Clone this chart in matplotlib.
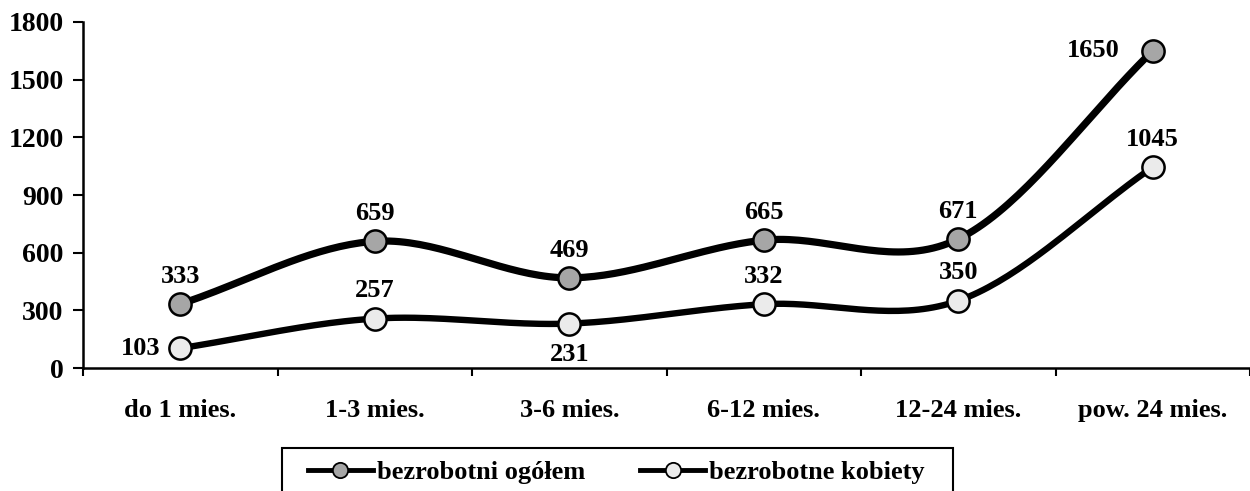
import numpy as np
import matplotlib
matplotlib.use('Agg')
from matplotlib import pyplot as plt
from matplotlib.lines import Line2D
from matplotlib.patches import Rectangle

# dane
kategorie = ['do 1 mies.', '1-3 mies.', '3-6 mies.', '6-12 mies.', '12-24 mies.', 'pow. 24 mies.']
ogolem = [333, 659, 469, 665, 671, 1650]
kobiety = [103, 257, 231, 332, 350, 1045]
# położenie etykiet danych: 'g' nad, 'd' pod, 'l' z lewej, 'L' dalej z lewej
poz_ogolem = ['g', 'g', 'g', 'g', 'g', 'L']
poz_kobiety = ['l', 'g', 'd', 'g', 'g', 'g']

plt.rcParams['font.family'] = ['Liberation Serif', 'DejaVu Serif']
plt.rcParams['font.weight'] = 'bold'


def wygladz(y, n=40):
    # krzywa Catmulla-Roma przez punkty (jak wygładzona linia w Excelu)
    y = np.asarray(y, dtype=float)
    x = np.arange(len(y), dtype=float)
    xs, ys = [], []
    for i in range(len(y) - 1):
        m0 = (y[min(i + 1, len(y) - 1)] - y[max(i - 1, 0)]) / (2 if 0 < i else 1)
        m1 = (y[min(i + 2, len(y) - 1)] - y[i]) / (2 if i + 2 < len(y) else 1)
        t = np.linspace(0, 1, n)
        h00 = 2 * t**3 - 3 * t**2 + 1
        h10 = t**3 - 2 * t**2 + t
        h01 = -2 * t**3 + 3 * t**2
        h11 = t**3 - t**2
        xs.append(x[i] + t)
        ys.append(h00 * y[i] + h10 * m0 + h01 * y[i + 1] + h11 * m1)
    return np.concatenate(xs), np.concatenate(ys)


fig = plt.figure(figsize=(12.5, 4.91), dpi=100)
ax = fig.add_axes([0.0664, 0.2505, 0.9336, 0.7047])

x = np.arange(len(kategorie))
serie = [
    (ogolem, poz_ogolem, '#a6a6a6', 5.2, 'bezrobotni ogółem'),
    (kobiety, poz_kobiety, '#ebebeb', 4.6, 'bezrobotne kobiety'),
]
uchwyty = []
for wart, poz, kolor, lw, nazwa in serie:
    sx, sy = wygladz(wart)
    ax.plot(sx, sy, color='black', lw=lw, solid_capstyle='round', zorder=2)
    ax.plot(x, wart, linestyle='none', marker='o', markersize=16,
            markerfacecolor=kolor, markeredgecolor='black', markeredgewidth=1.8, zorder=3)
    for xi, v, p in zip(x, wart, poz):
        if p == 'g':
            off, ha = (0, 20), 'center'
        elif p == 'd':
            off, ha = (0, -22), 'center'
        elif p == 'l':
            off, ha = (-14, 0), 'right'
        else:
            off, ha = (-24, 0), 'right'
        ax.annotate(str(v), (xi, v), xytext=off, textcoords='offset points',
                    ha=ha, va='center', fontsize=19, fontweight='bold', zorder=4)
    uchwyty.append(Line2D([], [], color='black', lw=3.5, marker='o', markersize=11,
                          markerfacecolor=kolor, markeredgecolor='black',
                          markeredgewidth=1.3, label=nazwa))

ax.set_xlim(-0.5, len(kategorie) - 0.5)
ax.set_ylim(0, 1800)
ax.set_yticks(range(0, 1801, 300))
ax.set_xticks(np.arange(len(kategorie) + 1) - 0.5)
ax.set_xticklabels([])
ax.set_xticks(x, minor=True)
ax.set_xticklabels(kategorie, minor=True)
ax.tick_params(axis='x', which='minor', length=0, pad=22, labelsize=19)
ax.tick_params(axis='x', which='major', length=6, width=1.5, direction='out')
ax.tick_params(axis='y', length=7, width=1.5, direction='out', pad=7, labelsize=20)
for lab in ax.get_xticklabels(minor=True) + ax.get_yticklabels():
    lab.set_fontweight('bold')

for s in ['top', 'right']:
    ax.spines[s].set_visible(False)
for s in ['left', 'bottom']:
    ax.spines[s].set_linewidth(1.8)
ax.spines['bottom'].set_clip_on(False)

# legenda bez ramki, ramka rysowana osobno (wychodzi poza dół rysunku)
leg = fig.legend(handles=uchwyty, loc='center left', bbox_to_anchor=(308 / 1250, 1 - 472 / 491),
                 ncol=2, fontsize=19, frameon=False,
                 handlelength=2.45, handletextpad=0.15, columnspacing=2.1, borderpad=0,
                 borderaxespad=0)
for t in leg.get_texts():
    t.set_fontweight('bold')

fig.canvas.draw()
bb = leg.get_window_extent()
W, H = fig.bbox.width, fig.bbox.height
x0 = bb.x0 - 26
x1 = bb.x1 + 28
gora = (bb.y0 + bb.y1) / 2 + 24
fig.patches.append(Rectangle((x0 / W, -0.2), (x1 - x0) / W, gora / H + 0.2,
                             transform=fig.transFigure, fill=False,
                             edgecolor='black', linewidth=1.5))

plt.savefig('out.png', dpi=100)
